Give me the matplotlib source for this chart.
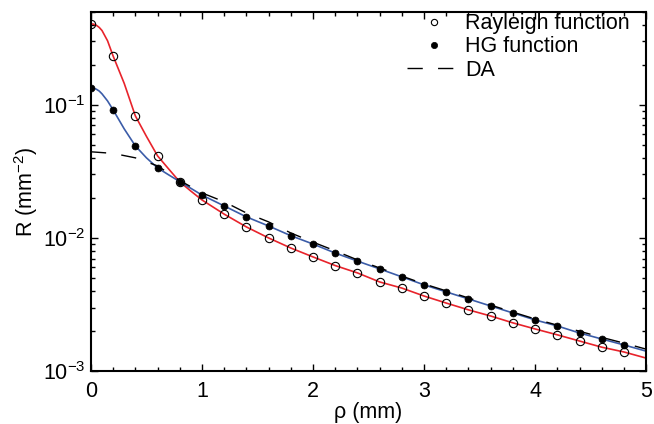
import numpy as np
import matplotlib
matplotlib.use("Agg")
import matplotlib.pyplot as plt
from matplotlib.ticker import MultipleLocator, LogLocator, NullFormatter

plt.rcParams['font.family'] = ['Liberation Sans', 'DejaVu Sans']
plt.rcParams['mathtext.default'] = 'regular'

# marker positions (mm)
rho_pts = [0.0, 0.2, 0.4, 0.6, 0.8, 1.0, 1.2, 1.4, 1.6, 1.8, 2.0, 2.2, 2.4,
           2.6, 2.8, 3.0, 3.2, 3.4, 3.6, 3.8, 4.0, 4.2, 4.4, 4.6, 4.8]
rayleigh_pts = [0.406, 0.233, 0.0827, 0.0414, 0.0264, 0.0193, 0.0151, 0.0121,
                0.0100, 0.0084, 0.0072, 0.0062, 0.00546, 0.00467, 0.0042,
                0.00366, 0.00324, 0.00288, 0.00259, 0.00230, 0.00207,
                0.00187, 0.00168, 0.00151, 0.00139]
hg_pts = [0.134, 0.0917, 0.0492, 0.0336, 0.0265, 0.0210, 0.0174, 0.0144,
          0.0123, 0.0104, 0.0090, 0.0077, 0.0067, 0.00585, 0.0051, 0.00444,
          0.00393, 0.00348, 0.00308, 0.00273, 0.00242, 0.00218, 0.00193,
          0.00174, 0.00157]

# curves
rho_line = [0.0, 0.025, 0.05, 0.075, 0.1, 0.15, 0.2, 0.3, 0.4, 0.5, 0.6,
            0.7, 0.8, 0.9, 1.0, 1.2, 1.4, 1.6, 1.8, 2.0, 2.2, 2.4, 2.6, 2.8,
            3.0, 3.2, 3.4, 3.6, 3.8, 4.0, 4.2, 4.4, 4.6, 4.8, 5.0]
rayleigh_line = [0.406, 0.404, 0.396, 0.382, 0.362, 0.303, 0.233, 0.145,
                 0.0827, 0.058, 0.0414, 0.033, 0.0264, 0.0225, 0.0193,
                 0.0151, 0.0121, 0.0100, 0.0084, 0.0072, 0.0062, 0.00546,
                 0.00467, 0.0042, 0.00366, 0.00324, 0.00288, 0.00259,
                 0.00230, 0.00207, 0.00187, 0.00168, 0.00151, 0.00139,
                 0.00125]
hg_line = [0.134, 0.1335, 0.131, 0.127, 0.121, 0.107, 0.0917, 0.066,
           0.0492, 0.040, 0.0336, 0.0298, 0.0265, 0.0236, 0.0210, 0.0174,
           0.0144, 0.0123, 0.0104, 0.0090, 0.0077, 0.0067, 0.00585, 0.0051,
           0.00444, 0.00393, 0.00348, 0.00308, 0.00273, 0.00242, 0.00218,
           0.00193, 0.00174, 0.00157, 0.00141]

rho_da = [0.0, 0.2, 0.4, 0.6, 0.8, 1.0, 1.2, 1.4, 1.6, 1.8, 2.0, 2.2, 2.4,
          2.6, 2.8, 3.0, 3.2, 3.4, 3.6, 3.8, 4.0, 4.2, 4.4, 4.6, 4.8, 5.0]
da = [0.0444, 0.0432, 0.0400, 0.0348, 0.0270, 0.0218, 0.0187, 0.0154,
      0.0132, 0.0109, 0.0093, 0.0080, 0.00684, 0.00595, 0.00517, 0.00451,
      0.0040, 0.00354, 0.00313, 0.00277, 0.00246, 0.00221, 0.00199,
      0.00179, 0.00162, 0.00146]

red = '#e8232b'
blue = '#3b5ca8'

fig = plt.figure(figsize=(6.54, 4.24), dpi=100)
ax = fig.add_axes([0.139, 0.125, 0.849, 0.847])

ax.plot(rho_line, rayleigh_line, color=red, lw=1.2, zorder=2)
ax.plot(rho_line, hg_line, color=blue, lw=1.2, zorder=2)
ax.plot(rho_da, da, color='black', lw=1.0, dashes=(11, 11), zorder=3)
ax.plot(rho_pts, rayleigh_pts, 'o', mfc='none', mec='black', mew=0.8,
        ms=6, zorder=4)
ax.plot(rho_pts, hg_pts, 'o', mfc='black', mec='black', mew=0.5, ms=5,
        zorder=4)

# legend handles
h1, = ax.plot([], [], 'o', mfc='none', mec='black', mew=0.8, ms=4.5)
h2, = ax.plot([], [], 'o', mfc='black', mec='black', mew=0.5, ms=4.5)
h3, = ax.plot([], [], color='black', lw=1.0, dashes=(11, 11))
ax.legend([h1, h2, h3], ['Rayleigh function', 'HG function', 'DA'],
          loc='upper right', frameon=False, fontsize=15.5, handlelength=2.5,
          handletextpad=0.2, labelspacing=0.1, borderaxespad=0.0,
          bbox_to_anchor=(0.986, 1.02))

ax.set_yscale('log')
ax.set_xlim(0, 5)
ax.set_ylim(1e-3, 0.5)
ax.set_yticks([1e-3, 1e-2, 1e-1])
ax.yaxis.set_minor_locator(LogLocator(base=10, subs=np.arange(2, 10)))
ax.yaxis.set_minor_formatter(NullFormatter())
ax.xaxis.set_major_locator(MultipleLocator(1))
ax.xaxis.set_minor_locator(MultipleLocator(0.2))

ax.tick_params(which='both', direction='in', top=True, right=True,
               labelsize=15.5, width=1.0)
ax.tick_params(which='major', length=5)
ax.tick_params(which='minor', length=3)
ax.tick_params(axis='x', which='major', pad=7)
ax.tick_params(axis='y', which='major', pad=4)
for s in ax.spines.values():
    s.set_linewidth(1.5)

ax.set_xlabel(r'ρ (mm)', fontsize=15.5, labelpad=0)
ax.set_ylabel(r'R (mm$^{-2}$)', fontsize=15.5, labelpad=2)

fig.savefig('out.png', dpi=100)
